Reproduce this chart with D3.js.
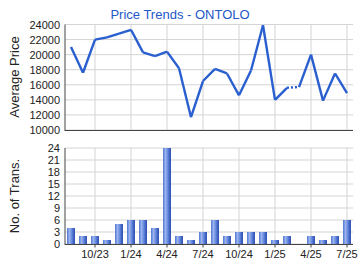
<!DOCTYPE html>
<html>
<head>
<meta charset="utf-8">
<script src="https://cdn.jsdelivr.net/npm/d3@7"></script>
<style>
  body { margin: 0; background: #fff; }
  svg { display: block; font-family: "Liberation Sans", Arial, sans-serif; }
  .grid line { stroke: #d4d4d4; stroke-width: 1; }
  .tick text { fill: #222; font-size: 11px; }
</style>
</head>
<body>
<div class="chart-container"></div>
<script>
// data
const months = ['8/23', '9/23', '10/23', '11/23', '12/23', '1/24', '2/24', '3/24', '4/24', '5/24',
    '6/24', '7/24', '8/24', '9/24', '10/24', '11/24', '12/24', '1/25', '2/25', '3/25',
    '4/25', '5/25', '6/25', '7/25'];
const avgPrice = [21000, 17600, 22000, 22300, 22800, 23300, 20300, 19800, 20400, 18200,
    11700, 16500, 18100, 17500, 14600, 17900, 23900, 14000, 15600, 15700,
    20000, 13900, 17500, 14900];
const transactions = [4, 2, 2, 1, 5, 6, 6, 4, 24, 2,
    1, 3, 6, 2, 3, 3, 3, 1, 2, 0,
    2, 1, 2, 6];
const dottedInto = ['3/25']; // segment ending at this month is drawn dotted
const priceTicks = [10000, 12000, 14000, 16000, 18000, 20000, 22000, 24000];
const transTicks = [0, 3, 6, 9, 12, 15, 18, 21, 24];
const labelMonths = months.filter(m => [1, 4, 7, 10].includes(+m.split('/')[0]));

const width = 360;
const height = 270;
const left = 65, right = 353;

const svg = d3.select('.chart-container')
    .append('svg')
    .attr('width', width)
    .attr('height', height);

// gradient for the bars
const grad = svg.append('defs').append('linearGradient')
    .attr('id', 'barGrad')
    .attr('x1', '0%').attr('x2', '100%');
[['0%', '#4a6fcf'], ['30%', '#9bb6ee'], ['55%', '#6f8fe0'], ['100%', '#2448b0']]
    .forEach(([o, c]) => grad.append('stop').attr('offset', o).attr('stop-color', c));

const xScale = d3.scaleBand()
    .domain(months)
    .range([left, right])
    .paddingInner(0.34)
    .paddingOuter(0.17);
const xCenter = m => xScale(m) + xScale.bandwidth() / 2;

const yPrice = d3.scaleLinear().domain([10000, 24000]).range([130, 24.5]);
const yTrans = d3.scaleLinear().domain([0, 24]).range([244, 148]);

// title
svg.append('text')
    .attr('x', 180)
    .attr('y', 19)
    .attr('text-anchor', 'middle')
    .attr('font-size', '13px')
    .attr('fill', '#2458c8')
    .text('Price Trends - ONTOLO');

function drawPanel(yScale, ticks, yTop, yBottom) {
    // horizontal grid
    svg.append('g')
        .attr('class', 'grid')
        .selectAll('line')
        .data(ticks)
        .join('line')
        .attr('x1', left).attr('x2', right)
        .attr('y1', d => yScale(d)).attr('y2', d => yScale(d));

    // vertical grid at labelled months
    svg.append('g')
        .attr('class', 'grid')
        .selectAll('line')
        .data(labelMonths)
        .join('line')
        .attr('x1', d => xCenter(d)).attr('x2', d => xCenter(d))
        .attr('y1', yTop).attr('y2', yBottom);

    const yAxis = d3.axisLeft(yScale)
        .tickValues(ticks)
        .tickFormat(d3.format('d'))
        .tickSize(0)
        .tickPadding(5);

    const g = svg.append('g')
        .attr('transform', `translate(${left}, 0)`)
        .call(yAxis);
    g.select('.domain').remove();

    // axis frame
    svg.append('line')
        .attr('x1', left).attr('x2', left)
        .attr('y1', yTop).attr('y2', yBottom + 1)
        .attr('stroke', '#444');
    svg.append('line')
        .attr('x1', left).attr('x2', right)
        .attr('y1', yBottom + 0.5).attr('y2', yBottom + 0.5)
        .attr('stroke', '#444');
}

drawPanel(yPrice, priceTicks, 24.5, 130);
drawPanel(yTrans, transTicks, 148, 244);

// price line, segment by segment
const priceLine = d3.line()
    .x(d => xCenter(d.month))
    .y(d => yPrice(d.value));
const points = months.map((m, i) => ({ month: m, value: avgPrice[i] }));

svg.append('g')
    .selectAll('path')
    .data(d3.pairs(points))
    .join('path')
    .attr('d', d => priceLine(d))
    .attr('fill', 'none')
    .attr('stroke', '#2a5fcf')
    .attr('stroke-width', 2.4)
    .attr('stroke-linejoin', 'round')
    .attr('stroke-dasharray', d => dottedInto.includes(d[1].month) ? '2,2' : null);

// bars
svg.append('g')
    .selectAll('rect')
    .data(months.map((m, i) => ({ month: m, value: transactions[i] })).filter(d => d.value > 0))
    .join('rect')
    .attr('x', d => xScale(d.month))
    .attr('width', xScale.bandwidth())
    .attr('y', d => yTrans(d.value))
    .attr('height', d => yTrans(0) - yTrans(d.value))
    .attr('fill', 'url(#barGrad)');

// x axis
const xAxis = d3.axisBottom(xScale)
    .tickValues(labelMonths)
    .tickSize(3)
    .tickPadding(3);
const xg = svg.append('g')
    .attr('transform', 'translate(0, 244.5)')
    .call(xAxis);
xg.select('.domain').remove();
xg.selectAll('.tick line').attr('stroke', '#444');

// y axis titles
svg.append('text')
    .attr('transform', 'translate(19, 77) rotate(-90)')
    .attr('text-anchor', 'middle')
    .attr('font-size', '13px')
    .attr('fill', '#222')
    .text('Average Price');

svg.append('text')
    .attr('transform', 'translate(19, 196) rotate(-90)')
    .attr('text-anchor', 'middle')
    .attr('font-size', '13px')
    .attr('fill', '#222')
    .text('No. of Trans.');
</script>
</body>
</html>
